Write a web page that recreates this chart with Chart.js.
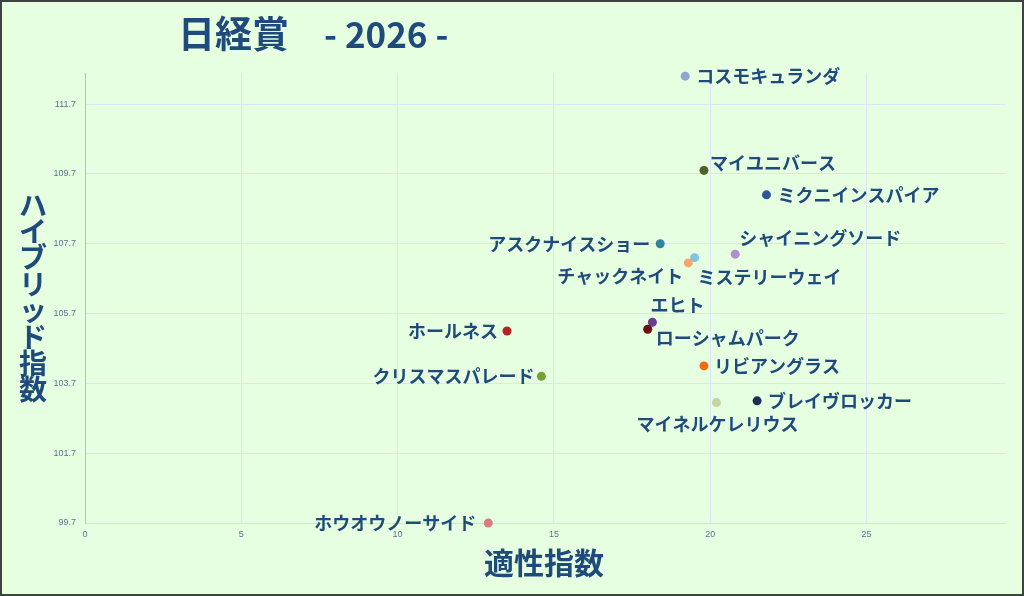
<!DOCTYPE html>
<html lang="ja">
<head>
<meta charset="utf-8">
<title>日経賞 2026</title>
<script src="https://cdn.jsdelivr.net/npm/chart.js@4.4.1/dist/chart.umd.min.js"></script>
<style>
  html, body { margin: 0; padding: 0; background: #e5ffe0; }
  #wrap { width: 1024px; height: 596px; position: relative; }
</style>
</head>
<body>
<div id="wrap"><canvas id="scatter" width="1024" height="596"></canvas></div>
<script>
// 馬名と指数
const horseNames = [
    'コスモキュランダ', 'マイユニバース', 'ミクニインスパイア', 'アスクナイスショー',
    'ミステリーウェイ', 'チャックネイト', 'シャイニングソード', 'エヒト',
    'ローシャムパーク', 'ホールネス', 'クリスマスパレード', 'リビアングラス',
    'ブレイヴロッカー', 'マイネルケレリウス', 'ホウオウノーサイド'
];
const aptitudeIndex = [19.2, 19.8, 21.8, 18.4, 19.5, 19.3, 20.8, 18.15, 18.0, 13.5, 14.6, 19.8, 21.5, 20.2, 12.9];
const hybridIndex = [112.5, 109.8, 109.1, 107.7, 107.3, 107.15, 107.4, 105.45, 105.25, 105.2, 103.9, 104.2, 103.2, 103.15, 99.7];
const pointColors = [
    '#8ea6d2', '#4f6228', '#2e5597', '#31859c',
    '#7fc4e0', '#f6a56c', '#b18dca', '#6a3d8f',
    '#6b1010', '#b42424', '#76a032', '#f26b10',
    '#1b2e55', '#c4d49c', '#da7d7d'
];

// 目盛り
const xTicks = [0, 5, 10, 15, 20, 25];
const yTicks = [99.7, 101.7, 103.7, 105.7, 107.7, 109.7, 111.7];

const chartTitle = '日経賞';
const chartSubTitle = '- 2026 -';
const xTitle = '適性指数';
const yTitle = 'ハイブリッド指数';

// ラベルの置き方 [textAlign, dx, dy]
const labelPlace = [
    ['left', 11, 0], ['left', 6, -7], ['left', 11, 0], ['right', -10, 0],
    ['left', 3, 19], ['right', -5, 13], ['left', 4, -16], ['left', -2, -17],
    ['left', 8, 9], ['right', -9, 0], ['right', -7, 0], ['left', 10, 0],
    ['left', 11, 0], ['center', 1, 22], ['right', -12, 0]
];

const TEXT_BLUE = '#1f4a7c';
const JP_FONT = '"Noto Sans CJK JP", "Noto Sans", sans-serif';

// 背景・枠・タイトル
const decoPlugin = {
    id: 'deco',
    beforeDraw(chart) {
        const ctx = chart.ctx;
        ctx.save();
        ctx.fillStyle = '#e5ffe0';
        ctx.fillRect(0, 0, chart.width, chart.height);
        ctx.restore();
    },
    afterDraw(chart) {
        const ctx = chart.ctx;
        ctx.save();
        ctx.strokeStyle = '#3f433f';
        ctx.lineWidth = 2;
        ctx.strokeRect(1, 1, chart.width - 2, chart.height - 2);

        ctx.fillStyle = TEXT_BLUE;
        ctx.textBaseline = 'middle';
        ctx.textAlign = 'left';
        ctx.font = 'bold 37px ' + JP_FONT;
        ctx.fillText(chartTitle, 178, 34);
        ctx.font = 'bold 35px ' + JP_FONT;
        ctx.fillText(chartSubTitle, 324, 35);

        ctx.textAlign = 'center';
        ctx.font = 'bold 30px ' + JP_FONT;
        ctx.fillText(xTitle, 544, 563);

        // 縦書き
        ctx.font = 'bold 28px ' + JP_FONT;
        [...yTitle].forEach((ch, i) => {
            ctx.fillText(ch, 33, 205 + i * 26.4);
        });
        ctx.restore();
    }
};

// 馬名ラベル
const labelPlugin = {
    id: 'horseLabels',
    afterDatasetsDraw(chart) {
        const ctx = chart.ctx;
        const meta = chart.getDatasetMeta(0);
        ctx.save();
        ctx.font = 'bold 18px ' + JP_FONT;
        ctx.fillStyle = TEXT_BLUE;
        ctx.textBaseline = 'middle';
        meta.data.forEach((pt, i) => {
            const [align, dx, dy] = labelPlace[i];
            ctx.textAlign = align;
            ctx.fillText(horseNames[i], pt.x + dx, pt.y + dy);
        });
        ctx.restore();
    }
};

const ctx = document.getElementById('scatter').getContext('2d');

new Chart(ctx, {
    type: 'scatter',
    data: {
        datasets: [{
            label: 'horses',
            data: horseNames.map((n, i) => ({ x: aptitudeIndex[i], y: hybridIndex[i] })),
            backgroundColor: pointColors,
            borderWidth: 0,
            pointRadius: 4.5,
            pointHoverRadius: 5,
            clip: false
        }]
    },
    options: {
        responsive: false,
        animation: false,
        devicePixelRatio: 1,
        layout: { padding: { left: 0, top: 73, right: 19, bottom: 53 } },
        scales: {
            x: {
                type: 'linear',
                min: 0,
                max: 29.43,
                afterBuildTicks: s => { s.ticks = xTicks.map(v => ({ value: v })); },
                afterFit: s => { s.height = 20; },
                grid: { color: '#dae5f6', drawTicks: false },
                border: { color: '#d3dff3' },
                ticks: { padding: 6, color: '#5d7190', font: { size: 9, family: 'Liberation Sans' } }
            },
            y: {
                type: 'linear',
                min: 99.7,
                max: 112.59,
                afterBuildTicks: s => { s.ticks = yTicks.map(v => ({ value: v })); },
                afterFit: s => { s.width = 85; },
                grid: { color: '#dae5f6', drawTicks: false },
                border: { color: '#a7c0f2' },
                ticks: {
                    padding: 9,
                    color: '#5d7190',
                    font: { size: 9, family: 'Liberation Sans' },
                    callback: v => v.toFixed(1)
                }
            }
        },
        plugins: {
            legend: { display: false },
            tooltip: { enabled: false }
        }
    },
    plugins: [decoPlugin, labelPlugin]
});
</script>
</body>
</html>
